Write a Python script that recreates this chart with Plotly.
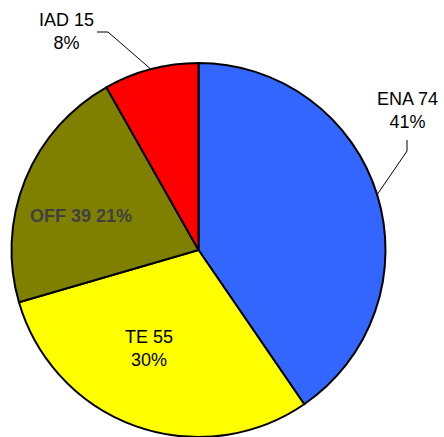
import math
import plotly.graph_objects as go

# Data
categories = ["ENA", "TE", "OFF", "IAD"]
values = [74, 55, 39, 15]
percent_labels = ["41%", "30%", "21%", "8%"]
colors = ["#3366FF", "#FFFF00", "#808000", "#FF0000"]

W, H = 444, 437
CX, CY, R = 198.5, 250, 187  # pie centre and radius in pixels


def px(x):
    return x / W


def py(y):
    return 1 - y / H


def edge_point(i):
    """Point on the rim at the middle of slice i (clockwise from 12 o'clock)."""
    total = sum(values)
    start = sum(values[:i])
    ang = (start + values[i] / 2) / total * 2 * math.pi
    return CX + R * math.sin(ang), CY - R * math.cos(ang)


fig = go.Figure(
    go.Pie(
        labels=categories,
        values=values,
        sort=False,
        direction="clockwise",
        rotation=0,
        marker=dict(colors=colors, line=dict(color="black", width=2)),
        textinfo="none",
        hoverinfo="label+value+percent",
        showlegend=False,
        domain=dict(x=[px(CX - R), px(CX + R)], y=[max(0, py(CY + R)), py(CY - R)]),
    )
)

font = dict(family="Liberation Sans, Arial, sans-serif", size=18, color="black")

# label block centres (pixels)
label_pos = {
    "ENA": (407, 111),
    "TE": (149, 348),
    "OFF": (81, 216),
    "IAD": (66, 32),
}

annotations = []
for i, cat in enumerate(categories):
    x, y = label_pos[cat]
    if cat == "OFF":
        text = f"<b>{cat} {values[i]} {percent_labels[i]}</b>"
        f = dict(font, color="#404040")
    else:
        text = f"{cat} {values[i]}<br>{percent_labels[i]}"
        f = font
    annotations.append(
        dict(
            x=px(x), y=py(y), xref="paper", yref="paper",
            text=text, showarrow=False, font=f,
            xanchor="center", yanchor="middle", align="center",
        )
    )

shapes = []
# ENA leader: vertical stub under the label, then to the rim
ex, ey = edge_point(0)
shapes.append(dict(
    type="path", xref="paper", yref="paper",
    path=f"M {px(407)} {py(140)} L {px(407)} {py(151)} L {px(ex)} {py(ey)}",
    line=dict(color="black", width=1),
))
# IAD leader: horizontal stub right of the label, then to the rim
ix, iy = edge_point(3)
shapes.append(dict(
    type="path", xref="paper", yref="paper",
    path=f"M {px(97)} {py(32)} L {px(108)} {py(32)} L {px(ix)} {py(iy)}",
    line=dict(color="black", width=1),
))

fig.update_layout(
    width=W, height=H,
    margin=dict(l=0, r=0, t=0, b=0),
    paper_bgcolor="white",
    plot_bgcolor="white",
    annotations=annotations,
    shapes=shapes,
)

fig.write_html("out.html")
